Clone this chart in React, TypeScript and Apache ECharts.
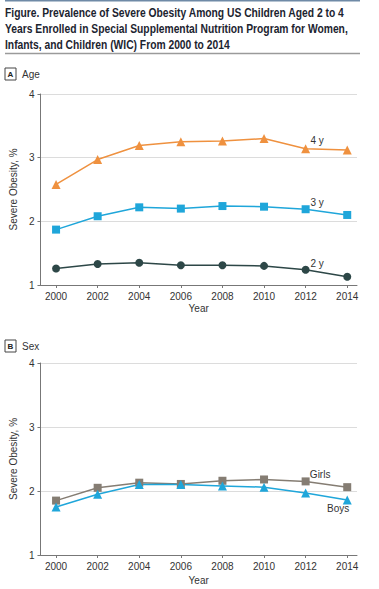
import React, { useEffect, useRef } from "react";
import * as echarts from "echarts";

const years = [2000, 2002, 2004, 2006, 2008, 2010, 2012, 2014];
const age4 = [2.58, 2.97, 3.19, 3.25, 3.26, 3.3, 3.14, 3.12];
const age3 = [1.87, 2.08, 2.22, 2.2, 2.24, 2.23, 2.19, 2.1];
const age2 = [1.26, 1.33, 1.35, 1.31, 1.31, 1.3, 1.24, 1.13];
const girls = [1.85, 2.05, 2.13, 2.11, 2.16, 2.18, 2.15, 2.06];
const boys = [1.75, 1.95, 2.1, 2.1, 2.08, 2.06, 1.97, 1.86];
const yTicks = [1, 2, 3, 4];

const titleLines = [
  "Figure. Prevalence of Severe Obesity Among US Children Aged 2 to 4",
  "Years Enrolled in Special Supplemental Nutrition Program for Women,",
  "Infants, and Children (WIC) From 2000 to 2014",
];

const FONT = "'Liberation Sans', Arial, sans-serif";
const TXT = "#333";
const TITLE_FONT = `bold 12.5px ${FONT}`;

function pts(vals: number[], labelIdx: number, label: string, offset: number[]) {
  return vals.map((v, i) => {
    const d: any = { value: [years[i], v] };
    if (i === labelIdx) {
      d.label = {
        show: true,
        formatter: label,
        position: "inside",
        offset,
        color: TXT,
        fontSize: 10,
        fontFamily: FONT,
      };
    }
    return d;
  });
}

function measure(text: string, font: string) {
  const c = document.createElement("canvas");
  const ctx = c.getContext("2d")!;
  ctx.font = font;
  return ctx.measureText(text).width;
}

export default function App() {
  const ref = useRef<HTMLDivElement>(null);
  useEffect(() => {
    const chart = echarts.init(ref.current!, undefined, { renderer: "svg" });
    const w1 = measure(titleLines[0], TITLE_FONT) || 420;
    const titleScale = 340 / w1;
    const xAxisBase = (gridIndex: number, nameGap: number) => ({
      gridIndex,
      type: "value",
      min: 1999.25,
      max: 2014.47,
      name: "Year",
      nameLocation: "middle",
      nameGap,
      nameTextStyle: { color: TXT, fontSize: 10, fontFamily: FONT, verticalAlign: "top" },
      axisLine: { show: true, lineStyle: { color: "#777", width: 1 } },
      axisTick: { show: true, length: 3, customValues: years, lineStyle: { color: "#777" } },
      axisLabel: {
        customValues: years,
        color: TXT,
        fontSize: 10,
        fontFamily: FONT,
        margin: 6,
        formatter: (v: number) => String(v),
      },
      splitLine: { show: false },
    });
    const yAxisBase = (gridIndex: number) => ({
      gridIndex,
      type: "value",
      min: yTicks[0],
      max: yTicks[yTicks.length - 1],
      interval: 1,
      name: "Severe Obesity, %",
      nameLocation: "middle",
      nameGap: 17,
      nameTextStyle: { color: TXT, fontSize: 10, fontFamily: FONT },
      axisLine: { show: true, lineStyle: { color: "#777", width: 1 } },
      axisTick: { show: true, length: 3, lineStyle: { color: "#777" } },
      axisLabel: { color: TXT, fontSize: 10, fontFamily: FONT, margin: 6 },
      splitLine: { show: true, lineStyle: { color: "#dcdcdc", width: 1 } },
    });
    const lineSeries = (
      name: string,
      vals: number[],
      color: string,
      symbol: string,
      symbolSize: number,
      idx: number,
      labelIdx: number,
      label: string,
      offset: number[]
    ) => ({
      name,
      type: "line",
      xAxisIndex: idx,
      yAxisIndex: idx,
      data: pts(vals, labelIdx, label, offset),
      symbol,
      symbolSize,
      lineStyle: { color, width: 1.5 },
      itemStyle: { color },
      emphasis: { disabled: true },
      z: 3,
    });

    chart.setOption({
      animation: false,
      grid: [
        { left: 32, right: 22, top: 94, bottom: 304 },
        { left: 32, right: 22, top: 363, bottom: 34 },
      ],
      xAxis: [xAxisBase(0, 18), xAxisBase(1, 20)],
      yAxis: [yAxisBase(0), yAxisBase(1)],
      series: [
        lineSeries("4 y", age4, "#EF913F", "triangle", 9, 0, 6, "4 y", [11.5, -8]),
        lineSeries("3 y", age3, "#1FA6DA", "rect", 8, 0, 6, "3 y", [11.5, -6.5]),
        lineSeries("2 y", age2, "#2D4747", "circle", 8, 0, 6, "2 y", [11.5, -6]),
        lineSeries("Girls", girls, "#857D73", "rect", 8, 1, 6, "Girls", [14.5, -6.5]),
        lineSeries("Boys", boys, "#1FA6DA", "triangle", 9, 1, 7, "Boys", [-9, 8.5]),
      ],
      graphic: [
        { type: "line", shape: { x1: 5, y1: 0.5, x2: 360, y2: 0.5 }, style: { stroke: "#6f8aa6", lineWidth: 2 } },
        ...titleLines.map((t, i) => ({
          type: "text",
          x: 5,
          y: 12.5 + i * 16,
          scaleX: titleScale,
          style: {
            text: t,
            fill: "#1c2430",
            font: TITLE_FONT,
            verticalAlign: "middle",
          },
        })),
        { type: "line", shape: { x1: 5, y1: 53.5, x2: 360, y2: 53.5 }, style: { stroke: "#9a9a9a", lineWidth: 1.5 } },
        { type: "rect", shape: { x: 5, y: 68, width: 11, height: 12 }, style: { fill: "#fff", stroke: "#444", lineWidth: 1 } },
        { type: "text", x: 10.5, y: 74, style: { text: "A", fill: "#222", font: `bold 8px ${FONT}`, align: "center", verticalAlign: "middle" } },
        { type: "text", x: 22, y: 74, style: { text: "Age", fill: TXT, font: `10px ${FONT}`, verticalAlign: "middle" } },
        { type: "rect", shape: { x: 5, y: 340, width: 11, height: 12 }, style: { fill: "#fff", stroke: "#444", lineWidth: 1 } },
        { type: "text", x: 10.5, y: 346, style: { text: "B", fill: "#222", font: `bold 8px ${FONT}`, align: "center", verticalAlign: "middle" } },
        { type: "text", x: 22, y: 346, style: { text: "Sex", fill: TXT, font: `10px ${FONT}`, verticalAlign: "middle" } },
      ],
    });
    return () => chart.dispose();
  }, []);
  return (
    <div
      ref={ref}
      style={{ position: "absolute", left: 0, top: 0, width: 379, height: 589, background: "#fff" }}
    />
  );
}
